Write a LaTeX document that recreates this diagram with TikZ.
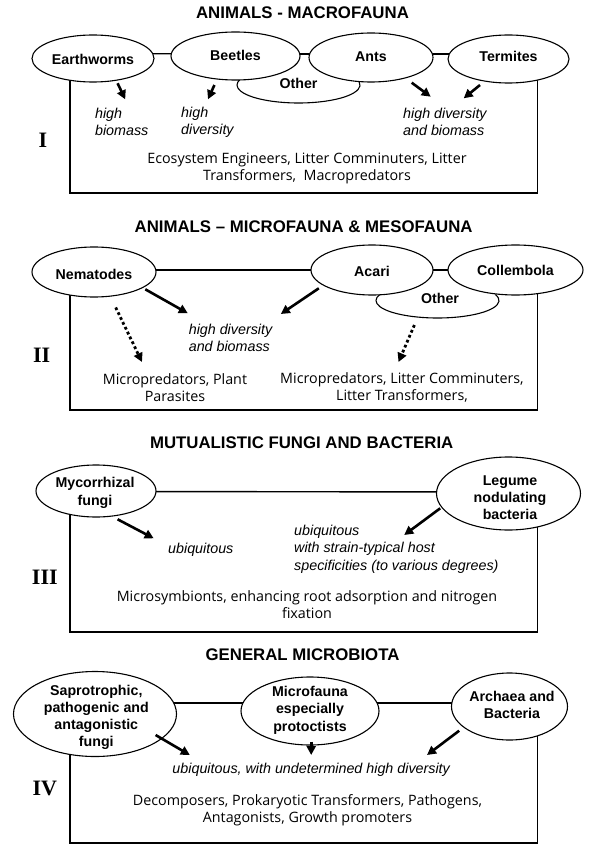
\documentclass[tikz,border=0pt]{standalone}
\usepackage{fontspec}
\setmainfont{Liberation Sans}
\newfontfamily\bodyfont{Open Sans}
\newfontfamily\numfont{Liberation Serif}
\usetikzlibrary{shapes.geometric,arrows.meta,backgrounds}
\tikzset{
  ell/.style={ellipse, draw, line width=1.1pt, fill=white, inner sep=0pt},
  ellline/.style={line width=1.1pt},
  elab/.style={font=\fontsize{14.2}{17.2}\selectfont\bfseries, align=center, inner sep=0pt},
  ttl/.style={font=\fontsize{16.8}{20}\selectfont\bfseries, inner sep=0pt},
  itl/.style={font=\fontsize{14.3}{17.3}\selectfont\itshape, align=left, inner sep=0pt, anchor=west},
  body/.style={font=\fontsize{14.3}{17}\bodyfont, align=center, inner sep=0pt},
  num/.style={font=\fontsize{22}{24}\numfont\bfseries, inner sep=0pt},
  frame/.style={line width=1.8pt},
  link/.style={line width=1.4pt},
  arr/.style={line width=2.6pt, -{Triangle[length=9pt,width=9pt]}},
  darr/.style={line width=2.8pt, dash pattern=on 2.8pt off 2.6pt, -{Triangle[length=9pt,width=9pt]}}
}
\begin{document}
\begin{tikzpicture}[x=1pt,y=-1pt]
\useasboundingbox (0,0) rectangle (595,850);
% ---------- Section I ----------
\node[ttl] (t1) at (302.5,13) {ANIMALS - MACROFAUNA};
\node[ell, draw=none, minimum width=123pt, minimum height=36pt] (o1) at (298.5,85) {};
\draw[ellline] ([shift={(-20:61.5 and 18)}]o1.center) arc[start angle=-20, end angle=200, x radius=61.5, y radius=18];
\node[ell, minimum width=122pt, minimum height=47pt] (ew) at (93,58.5) {};
\node[ell, minimum width=129pt, minimum height=48pt] (bt) at (235.5,56) {};
\node[ell, minimum width=124pt, minimum height=49pt] (an) at (371,57.5) {};
\node[ell, minimum width=121pt, minimum height=48pt] (tm) at (508.5,59) {};
\node[elab] (o1t) at (298.5,83) {Other};
\node[elab] (ewt) at (93,59) {Earthworms};
\node[elab] (btt) at (235.5,55) {Beetles};
\node[elab] (ant) at (371,57) {Ants};
\node[elab] (tmt) at (508.5,56) {Termites};
\node[itl] (h1) at (94.9,122) {high\\biomass};
\node[itl] (h2) at (181,122) {high\\diversity};
\node[itl] (h3) at (403,122) {high diversity\\and biomass};
\node[num] (n1) at (43,140) {I};
\node[body] (b1) at (307,168.5) {Ecosystem Engineers, Litter Comminuters, Litter\\Transformers,\ \ Macropredators};
\coordinate (a1s) at (117.6,83.3); \coordinate (a1e) at (125.2,99.3);
\coordinate (a2s) at (214.4,85);   \coordinate (a2e) at (208,99.3);
\coordinate (a3s) at (411.7,82.7); \coordinate (a3e) at (430.7,96.7);
\coordinate (a4s) at (480,85);     \coordinate (a4e) at (463.7,98.3);
\draw[arr] (a1s) -- (a1e);
\draw[arr] (a2s) -- (a2e);
\draw[arr] (a3s) -- (a3e);
\draw[arr] (a4s) -- (a4e);
% ---------- Section II ----------
\node[ttl] (t2) at (303.6,227) {ANIMALS – MICROFAUNA \& MESOFAUNA};
\node[ell, draw=none, minimum width=123pt, minimum height=35pt] (o2) at (437.5,300.5) {};
\draw[ellline] ([shift={(-20:61.5 and 17.5)}]o2.center) arc[start angle=-20, end angle=200, x radius=61.5, y radius=17.5];
\node[ell, minimum width=124pt, minimum height=50pt] (nm) at (94,272) {};
\node[ell, minimum width=122pt, minimum height=50pt] (ac) at (372,270) {};
\node[ell, minimum width=135pt, minimum height=50pt] (cb) at (515.5,270) {};
\node[elab] (o2t) at (440,298.5) {Other};
\node[elab] (nmt) at (94,274) {Nematodes};
\node[elab] (act) at (372,271) {Acari};
\node[elab] (cbt) at (515.5,270) {Collembola};
\node[itl] (h4) at (188.6,338) {high diversity\\and biomass};
\node[num] (n2) at (41.7,355) {II};
\node[body] (b2) at (175,387.5) {Micropredators, Plant\\Parasites};
\node[body] (b3) at (402,387.5) {Micropredators, Litter Comminuters,\\Litter Transformers,};
\coordinate (a5s) at (145.3,289.3); \coordinate (a5e) at (187.8,313.3);
\coordinate (a6s) at (318.8,288.3); \coordinate (a6e) at (280.8,314);
\coordinate (d1s) at (115.7,307.5); \coordinate (d1e) at (142,362);
\coordinate (d2s) at (414.4,325);   \coordinate (d2e) at (398.5,362);
\draw[arr] (a5s) -- (a5e);
\draw[arr] (a6s) -- (a6e);
\draw[darr] (d1s) -- (d1e);
\draw[darr] (d2s) -- (d2e);
% ---------- Section III ----------
\node[ttl] (t3) at (301.7,443) {MUTUALISTIC FUNGI AND BACTERIA};
\node[ell, minimum width=120pt, minimum height=52pt] (my) at (96,491) {};
\node[ell, minimum width=144pt, minimum height=73pt] (lg) at (508.5,493.5) {};
\node[elab, font=\fontsize{14.2}{18}\selectfont\bfseries] (myt) at (95,492.5) {Mycorrhizal\\fungi};
\node[elab] (lgt) at (510,497.5) {Legume\\nodulating\\bacteria};
\node[itl] (h5) at (168,550) {ubiquitous};
\node[itl] (h6) at (294,549) {ubiquitous\\with strain-typical host\\specificities (to various degrees)};
\node[num] (n3) at (44.8,577) {III};
\node[body] (b4) at (307,605) {Microsymbionts, enhancing root adsorption and nitrogen\\fixation};
\coordinate (a7s) at (117.6,519.3); \coordinate (a7e) at (153.7,538.3);
\coordinate (a8s) at (440.2,508.3); \coordinate (a8e) at (404.2,535);
\draw[arr] (a7s) -- (a7e);
\draw[arr] (a8s) -- (a8e);
% ---------- Section IV ----------
\node[ttl] (t4) at (302.5,655) {GENERAL MICROBIOTA};
\node[ell, minimum width=163pt, minimum height=85pt] (sp) at (95,714) {};
\node[ell, minimum width=138pt, minimum height=68pt] (mf) at (310,711) {};
\node[ell, minimum width=116pt, minimum height=67pt] (ar) at (509.5,706.5) {};
\node[elab] (spt) at (96.3,717.5) {Saprotrophic,\\pathogenic and\\antagonistic\\fungi};
\node[elab] (mft) at (310,710.3) {Microfauna\\especially\\protoctists};
\node[elab] (art) at (512,705) {Archaea and\\Bacteria};
\node[itl, anchor=center] (h7) at (311.2,770) {ubiquitous, with undetermined high diversity};
\node[num] (n4) at (44.8,788) {IV};
\node[body] (b5) at (307.5,810) {Decomposers, Prokaryotic Transformers, Pathogens,\\Antagonists, Growth promoters};
\coordinate (a9s) at (155.6,735);   \coordinate (a9e) at (189.8,755);
\coordinate (a10s) at (311.2,741.7); \coordinate (a10e) at (311.2,755);
\coordinate (a11s) at (459.2,730.7); \coordinate (a11e) at (427,755);
\draw[arr] (a9s) -- (a9e);
\draw[arr] (a10s) -- (a10e);
\draw[arr] (a11s) -- (a11e);
% ---------- frames and links (behind the ellipses) ----------
\begin{pgfonlayer}{background}
\fill[white] (0,0) rectangle (595,850);
\draw[frame] (70,58.5) |- (537.5,193) -- (537.5,59);
\draw[link] ([yshift=5pt]ew.center) -- ([yshift=2pt]bt.center);
\draw[link] ([yshift=2pt]bt.center) -- ([yshift=3.5pt]an.center);
\draw[link] ([yshift=3.5pt]an.center) -- ([yshift=5pt]tm.center);
\draw[frame] (70,272) |- (537.5,410) -- (537.5,270);
\draw[link] ([yshift=2pt]nm.center) -- (ac.center);
\draw[link] (ac.center) -- (cb.center);
\draw[frame] (70,491) |- (537.5,632) -- (537.5,493.5);
\draw[link] ([yshift=-0.5pt]my.center) -- ([yshift=1.5pt]lg.center);
\draw[frame] (70,714) |- (537.5,843) -- (537.5,706.5);
\draw[link] ([yshift=11pt]sp.center) -- ([yshift=8pt]mf.center);
\draw[link] ([yshift=8pt]mf.center) -- ([yshift=3.5pt]ar.center);
\end{pgfonlayer}
\end{tikzpicture}
\end{document}
